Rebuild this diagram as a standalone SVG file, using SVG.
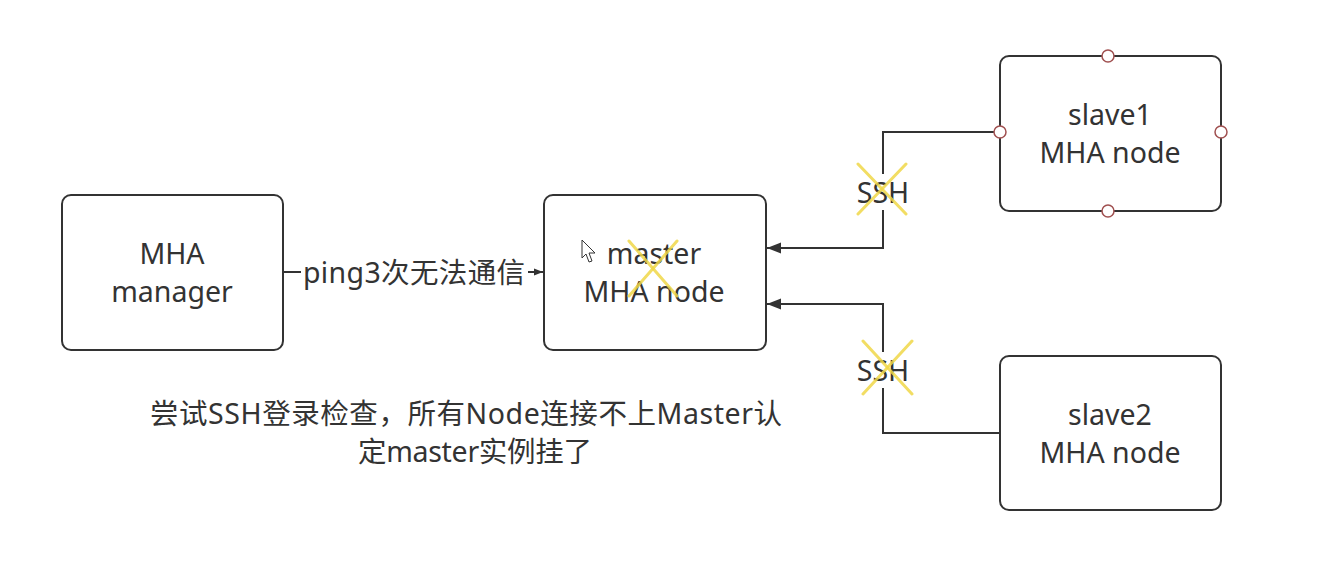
<svg xmlns="http://www.w3.org/2000/svg" width="1322" height="570" viewBox="0 0 1322 570">
<defs>
<style>
.box{fill:#fff;stroke:#333;stroke-width:2}
.t{font-family:"Noto Sans","Noto Sans CJK SC",sans-serif;font-size:28.5px;fill:#333;text-anchor:middle}
.ln{fill:none;stroke:#333;stroke-width:2}
.x{stroke:#f0d848;stroke-width:3;stroke-linecap:round;opacity:0.85}
.pt{fill:#fff;stroke:#a05050;stroke-width:1.5}
</style>
<marker id="ah" viewBox="0 0 10 10" refX="10" refY="5" markerWidth="9" markerHeight="9" markerUnits="userSpaceOnUse" orient="auto">
<path d="M0,1 L10,5 L0,9 Z" fill="#333"/>
</marker>
<marker id="ah2" viewBox="0 0 10 10" refX="10" refY="5" markerWidth="14" markerHeight="14" markerUnits="userSpaceOnUse" orient="auto">
<path d="M0,1 L10,5 L0,9 Z" fill="#333"/>
</marker>
</defs>
<rect width="1322" height="570" fill="#fff"/>
<g id="connectors">
<path class="ln" d="M283,272 L543,272" marker-end="url(#ah)"/>
<rect x="301" y="255" width="227" height="34" fill="#fff"/>
<text class="t" x="414" y="283" textLength="222">ping3次无法通信</text>
<path class="ln" d="M1000,132 L883,132 L883,248 L767,248" marker-end="url(#ah2)"/>
<rect x="855" y="174" width="56" height="36" fill="#fff"/>
<text class="t" x="883" y="203">SSH</text>
<line class="x" x1="858" y1="164" x2="906" y2="214"/>
<line class="x" x1="906" y1="164" x2="858" y2="214"/>
<path class="ln" d="M1000,433 L883,433 L883,304 L767,304" marker-end="url(#ah2)"/>
<rect x="855" y="352" width="56" height="36" fill="#fff"/>
<text class="t" x="883" y="381">SSH</text>
<line class="x" x1="863" y1="341" x2="912" y2="394"/>
<line class="x" x1="912" y1="341" x2="863" y2="394"/>
</g>
<g id="manager">
<rect class="box" x="62" y="195" width="221" height="155" rx="9"/>
<text class="t" x="172" y="264">MHA</text>
<text class="t" x="172" y="302">manager</text>
</g>
<g id="master">
<rect class="box" x="544" y="195" width="222" height="155" rx="9"/>
<text class="t" x="654" y="264">master</text>
<text class="t" x="654" y="302">MHA node</text>
<line class="x" x1="629" y1="241" x2="677" y2="296"/>
<line class="x" x1="677" y1="241" x2="629" y2="296"/>
<path d="M582,240 L582,258 L586,254 L589,262 L592,261 L589,253 L595,253 Z" fill="#fff" stroke="#333" stroke-width="1"/>
</g>
<g id="slave1">
<rect class="box" x="1000" y="56" width="221" height="155" rx="9"/>
<text class="t" x="1110" y="125">slave1</text>
<text class="t" x="1110" y="163">MHA node</text>
<circle class="pt" cx="1108" cy="56" r="6"/>
<circle class="pt" cx="1000" cy="132" r="6"/>
<circle class="pt" cx="1221" cy="132" r="6"/>
<circle class="pt" cx="1108" cy="211" r="6"/>
</g>
<g id="slave2">
<rect class="box" x="1000" y="356" width="221" height="154" rx="9"/>
<text class="t" x="1110" y="425">slave2</text>
<text class="t" x="1110" y="463">MHA node</text>
</g>
<g id="note">
<text class="t" x="466" y="424" textLength="632">尝试SSH登录检查，所有Node连接不上Master认</text>
<text class="t" x="475" y="462" textLength="234">定master实例挂了</text>
</g>
</svg>
